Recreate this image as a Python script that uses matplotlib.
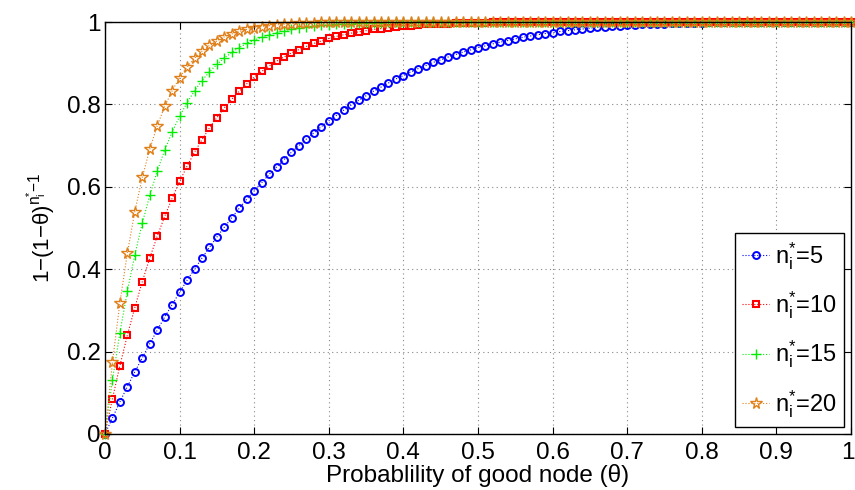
import numpy as np
import matplotlib.pyplot as plt
from matplotlib.transforms import ScaledTranslation

plt.rcParams['font.family'] = ['Liberation Sans', 'DejaVu Sans']
plt.rcParams['mathtext.fontset'] = 'custom'
plt.rcParams['mathtext.rm'] = 'Liberation Sans'
plt.rcParams['mathtext.it'] = 'Liberation Sans'
plt.rcParams['mathtext.bf'] = 'Liberation Sans:bold'

# Probability of good node, 0..1 in steps of 0.01
theta = np.linspace(0, 1, 101)

# values, one list per n_i^*
y_n5 = [0.000, 0.039, 0.078, 0.115, 0.151, 0.185, 0.219, 0.252, 0.284, 0.314,
        0.344, 0.373, 0.400, 0.427, 0.453, 0.478, 0.502, 0.525, 0.548, 0.570,
        0.590, 0.610, 0.630, 0.648, 0.666, 0.684, 0.700, 0.716, 0.731, 0.746,
        0.760, 0.773, 0.786, 0.798, 0.810, 0.821, 0.832, 0.842, 0.852, 0.862,
        0.870, 0.879, 0.887, 0.894, 0.902, 0.908, 0.915, 0.921, 0.927, 0.932,
        0.938, 0.942, 0.947, 0.951, 0.955, 0.959, 0.963, 0.966, 0.969, 0.972,
        0.974, 0.977, 0.979, 0.981, 0.983, 0.985, 0.987, 0.988, 0.990, 0.991,
        0.992, 0.993, 0.994, 0.995, 0.995, 0.996, 0.997, 0.997, 0.998, 0.998,
        0.998, 0.999, 0.999, 0.999, 0.999, 0.999, 1.000, 1.000, 1.000, 1.000,
        1.000, 1.000, 1.000, 1.000, 1.000, 1.000, 1.000, 1.000, 1.000, 1.000,
        1.000]
y_n10 = [0.000, 0.086, 0.166, 0.240, 0.307, 0.370, 0.427, 0.480, 0.528, 0.572,
         0.613, 0.650, 0.684, 0.714, 0.743, 0.768, 0.792, 0.813, 0.832, 0.850,
         0.866, 0.880, 0.893, 0.905, 0.915, 0.925, 0.933, 0.941, 0.948, 0.954,
         0.960, 0.965, 0.969, 0.973, 0.976, 0.979, 0.982, 0.984, 0.986, 0.988,
         0.990, 0.991, 0.993, 0.994, 0.995, 0.995, 0.996, 0.997, 0.997, 0.998,
         0.998, 0.998, 0.999, 0.999, 0.999, 0.999, 0.999, 0.999, 1.000, 1.000,
         1.000, 1.000, 1.000, 1.000, 1.000, 1.000, 1.000, 1.000, 1.000, 1.000,
         1.000, 1.000, 1.000, 1.000, 1.000, 1.000, 1.000, 1.000, 1.000, 1.000,
         1.000, 1.000, 1.000, 1.000, 1.000, 1.000, 1.000, 1.000, 1.000, 1.000,
         1.000, 1.000, 1.000, 1.000, 1.000, 1.000, 1.000, 1.000, 1.000, 1.000,
         1.000]
y_n15 = [0.000, 0.131, 0.246, 0.347, 0.435, 0.512, 0.579, 0.638, 0.689, 0.733,
         0.771, 0.804, 0.833, 0.858, 0.879, 0.897, 0.913, 0.926, 0.938, 0.948,
         0.956, 0.963, 0.969, 0.974, 0.979, 0.982, 0.985, 0.988, 0.990, 0.992,
         0.993, 0.994, 0.995, 0.996, 0.997, 0.998, 0.998, 0.998, 0.999, 0.999,
         0.999, 0.999, 1.000, 1.000, 1.000, 1.000, 1.000, 1.000, 1.000, 1.000,
         1.000, 1.000, 1.000, 1.000, 1.000, 1.000, 1.000, 1.000, 1.000, 1.000,
         1.000, 1.000, 1.000, 1.000, 1.000, 1.000, 1.000, 1.000, 1.000, 1.000,
         1.000, 1.000, 1.000, 1.000, 1.000, 1.000, 1.000, 1.000, 1.000, 1.000,
         1.000, 1.000, 1.000, 1.000, 1.000, 1.000, 1.000, 1.000, 1.000, 1.000,
         1.000, 1.000, 1.000, 1.000, 1.000, 1.000, 1.000, 1.000, 1.000, 1.000,
         1.000]
y_n20 = [0.000, 0.174, 0.319, 0.439, 0.540, 0.623, 0.691, 0.748, 0.795, 0.833,
         0.865, 0.891, 0.912, 0.929, 0.943, 0.954, 0.964, 0.971, 0.977, 0.982,
         0.986, 0.989, 0.991, 0.993, 0.995, 0.996, 0.997, 0.997, 0.998, 0.999,
         0.999, 0.999, 0.999, 1.000, 1.000, 1.000, 1.000, 1.000, 1.000, 1.000,
         1.000, 1.000, 1.000, 1.000, 1.000, 1.000, 1.000, 1.000, 1.000, 1.000,
         1.000, 1.000, 1.000, 1.000, 1.000, 1.000, 1.000, 1.000, 1.000, 1.000,
         1.000, 1.000, 1.000, 1.000, 1.000, 1.000, 1.000, 1.000, 1.000, 1.000,
         1.000, 1.000, 1.000, 1.000, 1.000, 1.000, 1.000, 1.000, 1.000, 1.000,
         1.000, 1.000, 1.000, 1.000, 1.000, 1.000, 1.000, 1.000, 1.000, 1.000,
         1.000, 1.000, 1.000, 1.000, 1.000, 1.000, 1.000, 1.000, 1.000, 1.000,
         1.000]

labels = [r'$\mathrm{n}_\mathrm{i}^{*}$=5', r'$\mathrm{n}_\mathrm{i}^{*}$=10',
          r'$\mathrm{n}_\mathrm{i}^{*}$=15', r'$\mathrm{n}_\mathrm{i}^{*}$=20']
xtick_labels = ['0', '0.1', '0.2', '0.3', '0.4', '0.5', '0.6', '0.7', '0.8', '0.9', '1']
ytick_labels = ['0', '0.2', '0.4', '0.6', '0.8', '1']

fig = plt.figure(figsize=(8.55, 4.9), dpi=100)
ax = fig.add_axes([0.1228, 0.1143, 0.8725, 0.8408])

ax.plot(theta, y_n5, ':', color='blue', marker='o', markersize=5,
        markerfacecolor='none', markeredgewidth=1.4, linewidth=0.8,
        label=labels[0], clip_on=False)
ax.plot(theta, y_n10, ':', color='red', marker='s', markersize=4.3,
        markerfacecolor='none', markeredgewidth=1.5, linewidth=0.8,
        label=labels[1], clip_on=False)
ax.plot(theta, y_n15, ':', color='#00ee00', marker='+', markersize=7.5,
        markeredgewidth=1.0, linewidth=0.8, label=labels[2], clip_on=False)
ax.plot(theta, y_n20, ':', color='#e0801a', marker='*', markersize=8.5,
        markerfacecolor='none', markeredgewidth=1.0, linewidth=0.8,
        label=labels[3], clip_on=False)

ax.set_xlim(0, 1)
ax.set_ylim(0, 1)
ax.set_xticks(np.arange(0, 1.01, 0.1))
ax.set_xticklabels(xtick_labels)
ax.set_yticks(np.arange(0, 1.01, 0.2))
ax.set_yticklabels(ytick_labels)
ax.tick_params(direction='in', length=5, width=0.8, labelsize=17.5,
               top=True, right=True)
ax.tick_params(axis='x', pad=6)
ax.tick_params(axis='y', pad=3)
ax.grid(True, linestyle=(0, (1, 3)), color='#888888', linewidth=0.8)
for s in ax.spines.values():
    s.set_linewidth(1.0)

# keep the last x tick label inside the figure
last = ax.get_xticklabels()[-1]
last.set_transform(last.get_transform() + ScaledTranslation(-3 / 100, 0, fig.dpi_scale_trans))

ax.set_xlabel('Probablility of good node (θ)', fontsize=17.5, labelpad=0)
ax.set_ylabel(r'1−(1−θ)$^{\mathrm{n}_\mathrm{i}^{*}\mathrm{-1}}$', fontsize=16, labelpad=7)

leg = ax.legend(loc='lower right', fontsize=17, fancybox=False, framealpha=1,
                edgecolor='black', handlelength=1.15, borderaxespad=0.3,
                labelspacing=0.75, handletextpad=0.25, borderpad=0.3)
leg.get_frame().set_linewidth(1.0)

fig.savefig('out.png', dpi=100)
